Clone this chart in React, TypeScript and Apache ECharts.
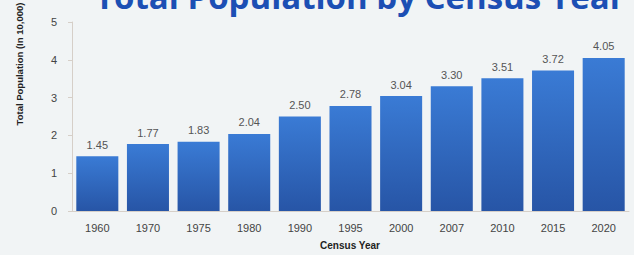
import React, { useEffect, useRef } from "react";
import * as echarts from "echarts";

const categories = ["1960", "1970", "1975", "1980", "1990", "1995", "2000", "2007", "2010", "2015", "2020"];
const population = [1.45, 1.77, 1.83, 2.04, 2.5, 2.78, 3.04, 3.3, 3.51, 3.72, 4.05];
const titleText = "Total Population by Census Year";
const yAxisName = "Total Population (In 10,000)";
const xAxisName = "Census Year";

export default function App() {
  const ref = useRef<HTMLDivElement>(null);
  useEffect(() => {
    document.body.style.margin = "0";
    const chart = echarts.init(ref.current!, null, { renderer: "svg" });
    chart.setOption({
      animation: false,
      backgroundColor: "#f1f4f5",
      graphic: [
        {
          type: "text",
          left: 95,
          top: -20,
          style: {
            text: titleText,
            font: "bold 33px 'Open Sans', 'Noto Sans', sans-serif",
            fill: "#1c4fb4",
          },
        },
        {
          type: "text",
          x: 19,
          y: 64,
          rotation: Math.PI / 2,
          style: {
            text: yAxisName,
            font: "bold 9.5px 'Liberation Sans', Arial, sans-serif",
            fill: "#222",
            textAlign: "center",
            textVerticalAlign: "middle",
          },
        },
        {
          type: "text",
          x: 350,
          y: 245,
          style: {
            text: xAxisName,
            font: "bold 10px 'Liberation Sans', Arial, sans-serif",
            fill: "#222",
            textAlign: "center",
            textVerticalAlign: "middle",
          },
        },
      ],
      grid: { left: 72, right: 5, top: 22, bottom: 44 },
      xAxis: {
        type: "category",
        data: categories,
        axisLine: { show: true, lineStyle: { color: "#d6cfc8" } },
        axisTick: { show: false },
        axisLabel: {
          color: "#444",
          fontSize: 11,
          margin: 11,
          fontFamily: "'Liberation Sans', Arial, sans-serif",
        },
      },
      yAxis: {
        type: "value",
        min: 0,
        max: 5,
        interval: 1,
        splitLine: { show: false },
        axisLine: { show: true, lineStyle: { color: "#d6cfc8" } },
        axisTick: { show: true, length: 4, lineStyle: { color: "#d6cfc8" } },
        axisLabel: {
          color: "#444",
          fontSize: 11,
          margin: 15,
          fontFamily: "'Liberation Sans', Arial, sans-serif",
        },
      },
      series: [
        {
          type: "bar",
          data: population,
          barWidth: "83%",
          itemStyle: {
            color: new echarts.graphic.LinearGradient(0, 0, 0, 1, [
              { offset: 0, color: "#3a7bd5" },
              { offset: 1, color: "#2755a6" },
            ]),
          },
          label: {
            show: true,
            position: "top",
            distance: 6,
            color: "#555",
            fontSize: 11,
            fontFamily: "'Liberation Sans', Arial, sans-serif",
            formatter: (p: any) => p.value.toFixed(2),
          },
        },
      ],
    });
    return () => chart.dispose();
  }, []);
  return <div ref={ref} style={{ position: "fixed", left: 0, top: 0, width: 634, height: 255 }} />;
}
